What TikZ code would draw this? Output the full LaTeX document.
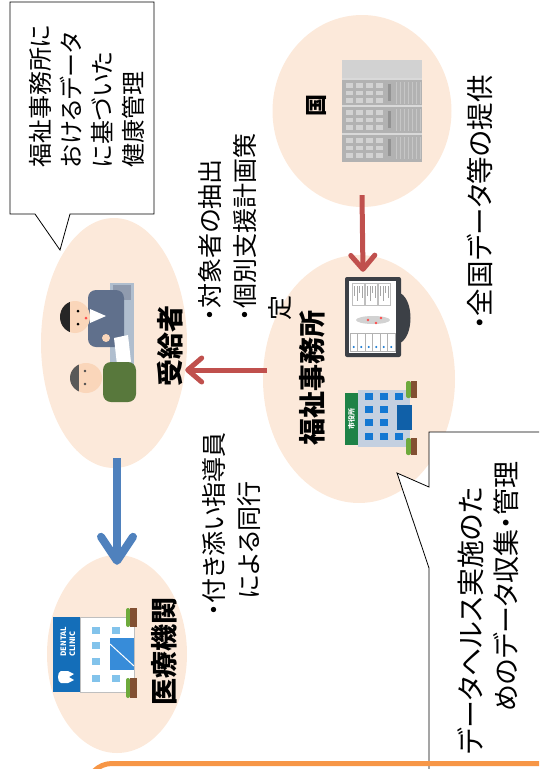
\documentclass[tikz,border=0pt]{standalone}
\usepackage{fontspec}
\setmainfont{Noto Sans CJK JP}[RawFeature=+palt]
\usetikzlibrary{shapes.geometric,arrows.meta}

\definecolor{peach}{RGB}{252,233,218}
\definecolor{flowred}{RGB}{192,80,77}
\definecolor{flowblue}{RGB}{79,129,189}
\definecolor{frameorange}{RGB}{247,150,70}
\definecolor{skin}{RGB}{250,214,186}
\definecolor{suit}{RGB}{96,112,140}
\definecolor{jacket}{RGB}{88,120,60}
\definecolor{desk}{RGB}{176,190,206}
\definecolor{monframe}{RGB}{60,64,70}
\definecolor{hall}{RGB}{196,208,224}
\definecolor{hallwin}{RGB}{20,120,210}
\definecolor{signgreen}{RGB}{30,130,70}
\definecolor{clinicblue}{RGB}{20,110,185}
\definecolor{clinicwin}{RGB}{130,195,235}
\definecolor{leaf}{RGB}{110,170,60}
\definecolor{trunk}{RGB}{130,80,50}

\begin{document}
\begin{tikzpicture}[x=1pt,y=-1pt]
  \tikzset{
    spot/.style={ellipse, fill=peach, inner sep=0pt},
    tag/.style={rotate=90, inner sep=0pt, font=\bfseries\fontsize{27}{30}\selectfont},
    note/.style={rotate=90, anchor=west, align=left, inner sep=0pt, font=\fontsize{25}{35}\selectfont},
    callout/.style={draw=black, fill=white, line width=0.8pt, line join=miter},
    redflow/.style={draw=flowred, line width=5pt, -{Straight Barb[length=14pt,width=24pt,round]}},
    blueflow/.style={draw=flowblue, line width=8pt, -{Straight Barb[length=24pt,width=32pt,round]}}
  }
  \useasboundingbox (0,0) rectangle (539,769);
  \clip (0,0) rectangle (539,769);

  \node[spot, minimum width=179pt, minimum height=192pt] (Kuni) at (362,111) {};
  \node[spot, minimum width=146pt, minimum height=250pt] (Jukyu) at (114,343) {};
  \node[spot, minimum width=192pt, minimum height=248pt] (Fukushi) at (359,379) {};
  \node[spot, minimum width=140pt, minimum height=198pt] (Iryo) at (117,654) {};

  % server rack
  \fill[gray!60] (342,60) rectangle (422,162);
  \fill[gray!35] (342,60) rectangle (422,78);
  \foreach \u in {80,107,135} {
    \fill[gray!30] (342,\u-2) rectangle (422,\u);
    \foreach \i in {0,...,3} {
      \foreach \j in {0,...,2} {
        \fill[gray!35] (346+10*\i,\u+3+7.5*\j) rectangle ++(7,4.5);
      }
    }
    \fill[gray!85] (388,\u+4) rectangle (391,\u+21);
    \foreach \s in {396,400,...,420} {
      \draw[gray!45, line width=0.6pt] (\s,\u+2) -- (\s,\u+24);
    }
  }

  % two people at a desk
  \fill[desk] (110,283) rectangle (134,398);
  \fill[suit!70] (113,285) rectangle (131,300);
  \fill[suit, rounded corners=8pt] (88,290) rectangle (124,347);
  \fill[white] (90,309) -- (106,316) -- (90,323) -- cycle;
  \fill[skin] (106,338) circle [radius=4];
  \fill[white] (114,338) -- (128,335) -- (131,362) -- (117,365) -- cycle;
  \fill[skin] (75,317) ellipse [x radius=15, y radius=16];
  \begin{scope}
    \clip (75,317) ellipse [x radius=15, y radius=16];
    \fill[black!85] (55,295) rectangle (70,340);
  \end{scope}
  \fill[black] (78,311) circle [radius=1.5] (78,324) circle [radius=1.5];
  \fill[red!70] (86,318) circle [radius=1.5];
  \fill[jacket, rounded corners=8pt] (103,362) rectangle (136,402);
  \fill[skin] (86,378) ellipse [x radius=16, y radius=15];
  \begin{scope}
    \clip (86,378) ellipse [x radius=16, y radius=15];
    \fill[black!65] (65,360) rectangle (79,395);
  \end{scope}
  \fill[black!70] (85,371) circle [radius=1.4] (85,384) circle [radius=1.4];

  % monitor
  \fill[monframe, rounded corners=2pt] (345,277) rectangle (401,357);
  \fill[white] (349,281) rectangle (396,353);
  \fill[monframe] (400,293) .. controls (414,300) and (414,336) .. (400,343) -- cycle;
  \foreach \cx in {352,365,378} {
    \draw[gray!50, line width=0.4pt] (\cx,283) rectangle ++(12,22);
    \foreach \k/\h in {0/10,1/15,2/7,3/12} {
      \draw[gray!70, line width=1pt] (\cx+2.5+2.5*\k,286) -- ++(0,\h);
    }
  }
  \fill[gray!35] (373,320) ellipse [x radius=17, y radius=4];
  \fill[red!70] (368,320) circle [radius=1.3] (381,318) circle [radius=1.3] (376,323) circle [radius=1.3];
  \foreach \k in {0,...,5} {
    \draw[gray!60, line width=0.4pt] (350+7.5*\k,333) rectangle ++(7.5,18);
    \fill[hallwin] (353.75+7.5*\k,347) circle [radius=1.2];
  }

  % city hall
  \fill[hall] (358,390) rectangle (410,447);
  \fill[signgreen] (345,393) rectangle (358,445);
  \node[rotate=90, inner sep=0pt, text=white, font=\bfseries\fontsize{7}{7}\selectfont] (HallSign) at (351.5,419) {市役所};
  \foreach \wx in {365,380} {
    \foreach \wy in {393,406,419,433} {
      \fill[hallwin] (\wx,\wy) rectangle ++(8,7);
    }
  }
  \fill[hallwin] (395,393) rectangle ++(8,7);
  \fill[hallwin] (395,433) rectangle ++(8,7);
  \fill[hallwin!80!black] (397,405) rectangle (412,430);
  \fill[leaf, rounded corners=2pt] (406,381) rectangle (411,398);
  \fill[trunk] (411,381) rectangle (417,398);
  \fill[leaf, rounded corners=2pt] (406,438) rectangle (411,455);
  \fill[trunk] (411,438) rectangle (417,455);

  % dental clinic
  \fill[white, draw=gray!50] (80,617) rectangle (134,692);
  \fill[clinicblue] (53,617) rectangle (80,692);
  \node[rotate=90, inner sep=0pt, align=left, text=white, font=\bfseries\fontsize{7.5}{9}\selectfont] (ClinicSign) at (68,642) {DENTAL\\CLINIC};
  \fill[white] (61,671) .. controls (57,672) and (57,682) .. (61,683) -- (68,683) -- (74,680) -- (69,677) -- (74,674) -- (68,671) -- cycle;
  \foreach \wy in {627,642,658,675} {
    \fill[clinicwin] (92,\wy) rectangle ++(8,7);
  }
  \fill[clinicwin] (112,627) rectangle ++(8,7);
  \fill[clinicwin] (112,675) rectangle ++(8,7);
  \fill[hallwin!85] (110,638) rectangle (134,670);
  \draw[white, line width=1pt] (110,644) -- (134,666);
  \fill[leaf, rounded corners=2pt] (126,608) rectangle (130,627);
  \fill[trunk] (130,608) rectangle (137,627);
  \fill[leaf, rounded corners=2pt] (126,678) rectangle (130,698);
  \fill[trunk] (130,678) rectangle (137,698);

  \node[tag, font=\bfseries\fontsize{22}{26}\selectfont] (KuniTag) at (317,105) {国};
  \node[tag] (JukyuTag) at (170,346) {受給者};
  \node[tag] (FukushiTag) at (312,378) {福祉事務所};
  \node[tag] (IryoTag) at (164,651) {医療機関};

  \draw[redflow] ([yshift=12pt]Kuni.south) -- ([shift={(4pt,-17pt)}]Fukushi.north);
  \draw[redflow] ([shift={(4pt,9pt)}]Fukushi.west) -- ([shift={(-2pt,-27pt)}]Jukyu.east);
  \draw[blueflow] ([shift={(3pt,10pt)}]Jukyu.south) -- ([yshift=-10pt]Iryo.north);

  \draw[callout] (10,2) -- (154,2) -- (154,214) -- (70,214) -- (60,250) -- (35,214) -- (10,214) -- cycle;
  \draw[callout] (429,432) -- (560,432) -- (560,790) -- (429,790) -- (429,568) -- (397,473) -- (429,487) -- cycle;

  \node[note, font=\fontsize{24}{31}\selectfont] (Basis) at (87,168) {福祉事務所に\\おけるデータ\\に基づいた\\健康管理};
  \node[note] (Pick) at (245,321) {・対象者の抽出\\・個別支援計画策\\定};
  \node[note] (Escort) at (232,616) {・付き添い指導員\\\hspace*{17pt}による同行};
  \node[note, font=\fontsize{27.5}{35}\selectfont] (Supply) at (480,330) {・全国データ等の提供};
  \node[note, font=\fontsize{28}{35}\selectfont] (HealthA) at (471,755) {データヘルス実施のた};
  \node[note, font=\fontsize{27}{35}\selectfont] (HealthB) at (506,712) {めのデータ収集・管理};

  \draw[frameorange, line width=5pt, rounded corners=25pt] (87,763.5) rectangle (620,900);
\end{tikzpicture}
\end{document}
